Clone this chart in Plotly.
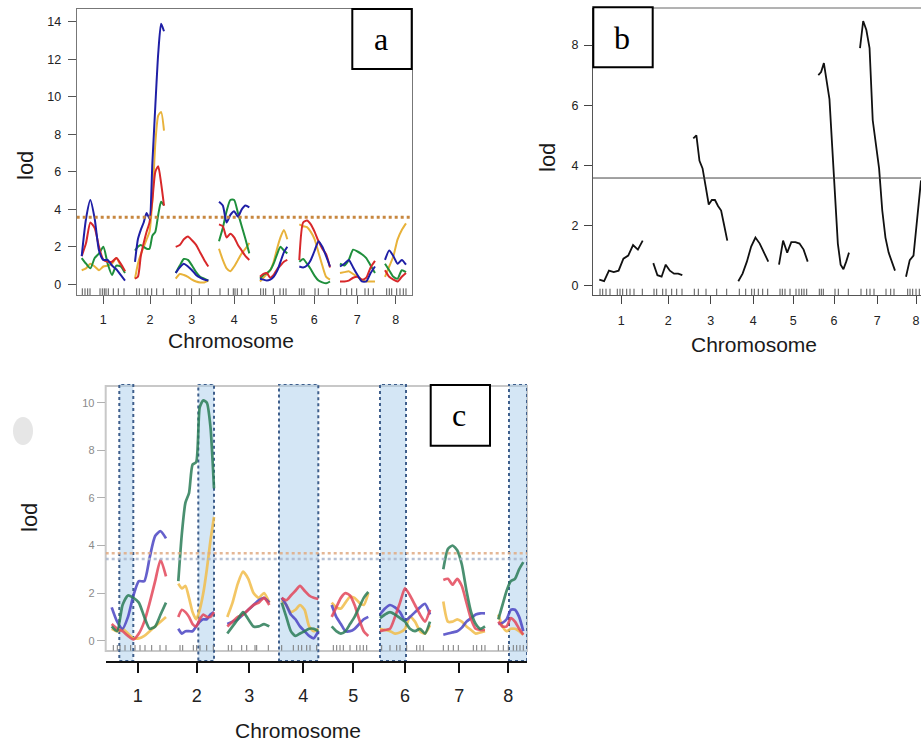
import numpy as np
import plotly.graph_objects as go

W, H = 921, 744
CHROMS = ["1", "2", "3", "4", "5", "6", "7", "8"]

# ---------------- Panel a (four traits) ----------------
A_CHR_START = [5.0, 58.3, 99.0, 142.3, 183.3, 222.6, 263.3, 308.3]
A_CHR_END = [48.3, 87.3, 131.6, 172.6, 210.6, 253.3, 298.3, 329.3]
A_CHR_MID = [26.6, 73.3, 115.0, 157.6, 197.3, 237.6, 280.6, 319.0]
A_BLUE = [
    [1.5, 3.5, 4.5, 3.5, 1.8, 1.3, 1.3, 1.0, 0.8, 0.5, 0.2],
    [1.2, 2.4, 2.9, 3.3, 3.8, 3.5, 6.5, 9.5, 12.3, 13.9, 13.5],
    [0.6, 0.9, 1.1, 0.95, 0.75, 0.5, 0.35, 0.25, 0.2],
    [4.4, 4.2, 3.3, 3.7, 3.9, 3.6, 4.0, 4.2, 4.1],
    [0.3, 0.25, 0.2, 0.25, 0.4, 0.7, 1.2, 1.7, 2.0],
    [0.95, 0.9, 1.0, 1.3, 1.8, 2.3, 2.0, 1.5, 0.95],
    [0.95, 1.1, 1.3, 0.9, 0.5, 0.15, 0.15, 0.6, 0.95],
    [1.3, 1.8, 1.5, 1.1, 1.3, 1.05],
]
A_RED = [
    [1.5, 2.2, 3.3, 3.0, 2.0, 1.3, 1.2, 1.2, 1.4, 1.1, 0.7],
    [0.3, 0.4, 1.5, 2.2, 2.8, 3.3, 4.5, 6.0, 6.3, 5.4, 4.2],
    [2.0, 2.1, 2.4, 2.55, 2.35, 2.1, 1.7, 1.3, 0.95],
    [3.2, 3.1, 2.5, 2.7, 2.5, 2.1, 1.8, 1.5, 1.3],
    [0.4, 0.55, 0.6, 0.35, 0.5, 0.8, 1.0, 1.2, 1.3],
    [1.3, 3.3, 3.4, 3.2, 2.8, 2.3, 1.9, 1.6, 0.9],
    [0.15, 0.15, 0.2, 0.35, 0.4, 0.25, 0.35, 0.9, 1.25],
    [0.75, 0.4, 0.25, 0.15, 0.4, 0.6],
]
A_GREEN = [
    [1.4, 1.1, 0.85, 1.4, 1.65, 2.0, 1.1, 0.5, 1.0, 0.95, 0.6],
    [1.8, 2.0, 2.1, 2.0, 1.9, 1.9, 2.6, 2.8, 3.7, 4.4, 4.2],
    [0.6, 1.0, 1.35, 1.3, 1.0, 0.65, 0.4, 0.3, 0.2],
    [2.3, 3.0, 3.9, 4.5, 4.5, 3.8, 3.1, 2.4, 1.65],
    [0.3, 0.5, 0.6, 0.75, 1.1, 1.6, 2.0, 1.8, 1.65],
    [1.2, 1.35, 1.1, 0.8, 0.45, 0.2, 0.1, 0.05, 0.15],
    [1.1, 1.0, 1.3, 1.85, 1.75, 1.6, 1.4, 1.0, 0.6],
    [1.1, 0.75, 0.4, 0.3, 0.75, 0.65],
]
A_ORANGE = [
    [0.75, 0.85, 1.1, 0.95, 0.75, 0.95, 1.0, 1.1, 1.4, 1.0, 0.7],
    [0.3, 1.1, 1.6, 2.0, 2.4, 2.8, 4.5, 7.5, 9.0, 9.2, 8.2],
    [0.3, 0.55, 0.5, 0.4, 0.25, 0.15, 0.1, 0.1, 0.2],
    [1.9, 1.3, 0.85, 0.7, 0.95, 1.3, 1.65, 1.9, 2.2],
    [0.15, 0.35, 0.55, 0.75, 1.2, 1.9, 2.5, 2.9, 2.4],
    [3.2, 3.1, 3.05, 2.8, 2.4, 1.7, 1.0, 0.4, 0.25],
    [0.6, 0.65, 0.7, 0.55, 0.4, 0.25, 0.15, 0.15, 0.15],
    [0.4, 0.95, 1.5, 2.4, 2.9, 3.25],
]
A_MARKERS = [
    [5.6, 8.3, 11.0, 13.3, 23.3, 25.6, 27.6, 29.3, 31.6, 36.6, 41.6, 47.3],
    [60.0, 62.6, 68.3, 71.0, 75.0, 80.0, 86.6],
    [100.0, 102.6, 108.3, 115.0, 122.6, 131.6],
    [143.3, 151.6, 156.6, 158.3, 160.6, 165.0, 171.6],
    [184.0, 186.6, 189.0, 196.6, 203.3, 206.6, 209.3],
    [222.6, 225.0, 227.3, 238.3, 241.6, 251.6],
    [264.0, 270.0, 275.0, 280.0, 288.3, 291.6, 296.6],
    [310.0, 312.6, 315.0, 320.0, 323.3, 326.6, 329.3],
]
A_THRESHOLD = 3.58

# ---------------- Panel b (single trait) ----------------
B_CHR_START = [6.3, 60.3, 100.3, 145.3, 186.0, 225.3, 267.0, 313.0]
B_CHR_END = [49.7, 89.3, 134.3, 175.3, 214.7, 256.0, 302.0, 328.0]
B_CHR_MID = [28.3, 75.3, 117.7, 160.3, 200.3, 241.0, 284.3, 323.0]
B_LOD = [
    [0.2, 0.15, 0.5, 0.45, 0.5, 0.9, 1.0, 1.35, 1.2, 1.5],
    [0.75, 0.35, 0.3, 0.7, 0.5, 0.4, 0.4, 0.35],
    [4.9, 5.0, 4.15, 3.9, 3.3, 2.7, 2.85, 2.85, 2.65, 2.5, 2.0, 1.5],
    [0.15, 0.4, 0.8, 1.3, 1.6, 1.4, 1.1, 0.8],
    [0.7, 1.5, 1.1, 1.45, 1.45, 1.4, 1.2, 0.8],
    [7.0, 7.1, 7.4, 6.8, 6.2, 4.6, 3.0, 1.4, 0.7, 0.55, 0.8, 1.1],
    [7.9, 8.8, 8.5, 7.9, 5.5, 4.7, 3.9, 2.5, 1.6, 1.1, 0.8, 0.5],
    [0.3, 0.85, 1.0, 2.2, 3.5],
]
B_MARKERS = [
    [7.0, 9.7, 13.0, 17.0, 24.3, 27.0, 29.7, 33.7, 37.0, 41.0, 49.3],
    [61.0, 63.7, 69.7, 73.0, 78.7, 83.7, 89.0],
    [101.3, 105.3, 113.0, 123.7, 133.7],
    [146.3, 152.7, 158.7, 161.3, 165.3, 169.7, 174.7],
    [187.0, 189.3, 192.0, 197.0, 203.0, 206.0, 208.7, 211.0, 213.7],
    [226.3, 228.3, 230.3, 242.0, 245.3, 255.3],
    [268.0, 273.7, 277.0, 281.0, 293.0, 297.7, 301.0],
    [314.7, 317.0, 319.7, 323.0, 326.3],
]
B_THRESHOLD = 3.58

# ---------------- Panel c (four traits, QTL regions) ----------------
C_CHR_START = [6.0, 72.6, 121.6, 176.0, 226.0, 274.3, 337.6, 392.6]
C_CHR_END = [60.3, 108.3, 163.6, 212.6, 262.6, 324.3, 379.3, 417.6]
C_CHR_MID = [32.0, 91.0, 143.6, 197.6, 247.6, 299.3, 353.6, 402.6]
C_BLUE = [
    [1.4, 0.8, 0.5, 1.0, 1.9, 2.5, 2.5, 3.5, 4.4, 4.6, 4.3],
    [0.5, 0.3, 0.4, 0.4, 0.4, 0.6, 0.8, 0.9, 0.9, 1.1, 1.2],
    [0.7, 0.8, 0.9, 1.1, 1.3, 1.5, 1.7, 1.8, 1.6],
    [1.8, 1.5, 1.1, 0.9, 0.6, 0.4, 0.2, 0.1, 0.4],
    [1.5, 1.0, 0.7, 0.4, 0.4, 0.5, 0.7, 0.9, 1.0],
    [1.1, 1.35, 1.5, 1.4, 1.2, 0.85, 1.0, 1.2, 1.4, 1.55, 1.1],
    [0.25, 0.3, 0.35, 0.4, 0.55, 0.8, 0.95, 1.1, 1.15, 1.15],
    [0.7, 0.75, 0.9, 1.3, 1.3, 1.0, 0.4],
]
C_RED = [
    [0.7, 0.5, 0.4, 0.2, 0.05, 0.3, 0.8, 1.6, 2.5, 3.4, 2.7],
    [1.0, 1.3, 1.2, 1.0, 0.7, 0.6, 0.9, 1.1, 1.0, 1.0, 1.2],
    [0.6, 0.8, 1.0, 1.1, 1.3, 1.5, 1.6, 1.8, 1.5],
    [1.8, 1.7, 1.9, 2.1, 2.3, 2.1, 1.9, 1.8, 1.75],
    [1.0, 1.4, 1.8, 2.0, 1.9, 1.5, 0.9, 0.4, 0.2],
    [0.4, 0.45, 0.5, 1.0, 1.6, 2.2, 1.9, 1.5, 1.1, 0.8, 1.3],
    [2.55, 2.6, 2.35, 2.6, 2.3, 1.6, 0.9, 0.5, 0.45, 0.45],
    [0.8, 0.6, 0.6, 0.95, 0.8, 0.5, 0.25],
]
C_GREEN = [
    [0.6, 0.4, 1.5, 1.9, 1.8, 1.6, 1.0, 0.5, 0.6, 1.1, 1.6],
    [2.5, 4.5, 5.8, 6.2, 7.4, 7.5, 9.8, 10.1, 10.0, 9.0, 6.4],
    [0.3, 0.6, 0.9, 1.2, 0.9, 0.6, 0.6, 0.7, 0.6],
    [1.6, 1.0, 0.4, 0.2, 0.3, 0.4, 0.5, 0.5, 0.4],
    [0.6, 0.4, 0.3, 0.4, 0.7, 1.0, 1.4, 1.8, 2.05],
    [0.95, 1.1, 1.2, 1.1, 0.95, 0.8, 0.5, 0.4, 0.5, 0.3, 0.8],
    [3.0, 3.85, 4.0, 3.8, 3.2, 2.1, 1.2, 0.7, 0.5, 0.6],
    [0.9, 1.5, 2.1, 2.5, 2.6, 3.0, 3.3],
]
C_ORANGE = [
    [0.5, 0.4, 0.5, 0.3, 0.1, 0.1, 0.2, 0.4, 0.6, 0.8, 1.0],
    [2.4, 2.2, 2.3, 1.8, 1.2, 0.9, 1.3, 2.0, 3.0, 4.2, 5.2],
    [1.0, 1.6, 2.4, 2.9, 2.6, 2.0, 1.8, 2.0, 1.6],
    [1.7, 1.5, 1.2, 1.3, 1.5, 1.3, 0.6, 0.4, 0.5],
    [1.6, 1.4, 1.35, 1.6, 1.85, 1.8, 1.6, 1.5, 2.0],
    [0.5, 0.45, 0.4, 0.3, 0.35, 0.5, 1.0, 0.8, 0.4, 0.3, 0.65],
    [1.65, 0.8, 0.8, 0.9, 0.8, 0.6, 0.45, 0.3, 0.35, 0.4],
    [1.1, 0.6, 0.4, 0.5, 0.5, 0.4, 0.25],
]
C_MARKERS = [
    [7.6, 11.6, 14.3, 19.3, 25.0, 29.3, 34.3, 39.3, 46.0, 54.3, 60.3],
    [74.3, 77.0, 87.6, 91.0, 94.3, 101.0, 107.6],
    [122.6, 126.0, 136.0, 141.0, 149.3, 151.0, 162.6],
    [176.0, 187.6, 192.6, 196.0, 201.0, 204.3, 211.0],
    [227.6, 231.0, 234.3, 237.6, 244.3, 251.0, 254.3, 257.6, 261.0],
    [276.0, 284.3, 291.0, 294.3, 301.0, 311.0, 314.3, 317.6],
    [337.6, 342.6, 347.6, 352.6, 367.6, 371.0, 376.0, 379.3],
    [392.6, 397.6, 402.6, 407.6, 411.0, 414.3, 417.6],
]
C_QTL_START = [13.6, 92.6, 173.3, 274.3, 403.3]
C_QTL_END = [27.6, 108.3, 212.6, 300.3, 421.3]
C_THRESHOLD_1 = 3.67
C_THRESHOLD_2 = 3.43

SANS = "Liberation Sans, Arial, sans-serif"
SERIF = "Liberation Serif, Times New Roman, serif"


def px(x):
    return x / W


def py(y):
    return 1 - y / H


fig = go.Figure()


def add_scan(values, starts, ends, color, xa, ya, width=2.0, opacity=1.0, shape="spline"):
    xs, ys = [], []
    for v, s, e in zip(values, starts, ends):
        pos = np.linspace(s, e, len(v))
        xs += list(pos) + [None]
        ys += list(v) + [None]
    fig.add_trace(go.Scatter(
        x=xs, y=ys, mode="lines", xaxis=xa, yaxis=ya, opacity=opacity,
        line=dict(color=color, width=width, shape=shape, smoothing=0.6),
        connectgaps=False, hoverinfo="skip", showlegend=False))


def add_rug(markers, yval, xa, ya, color="#555", size=6):
    xs = [m for chrom in markers for m in chrom]
    fig.add_trace(go.Scatter(
        x=xs, y=[yval] * len(xs), mode="markers", xaxis=xa, yaxis=ya,
        marker=dict(symbol="line-ns", size=size, line=dict(color=color, width=1)),
        hoverinfo="skip", showlegend=False))


# Panel a
for vals, col in [(A_ORANGE, "#e8b23a"), (A_GREEN, "#1f8f3c"), (A_RED, "#d8282a"), (A_BLUE, "#1f1fa6")]:
    add_scan(vals, A_CHR_START, A_CHR_END, col, "x", "y", width=2.0)
add_rug(A_MARKERS, -0.44, "x", "y")

# Panel b
add_scan(B_LOD, B_CHR_START, B_CHR_END, "#111111", "x2", "y2", width=1.8, shape="linear")
add_rug(B_MARKERS, -0.24, "x2", "y2")

# Panel c
for vals, col in [(C_ORANGE, "#f2bd4a"), (C_BLUE, "#4b45c4"), (C_RED, "#e3475a"), (C_GREEN, "#2b7d58")]:
    add_scan(vals, C_CHR_START, C_CHR_END, col, "x3", "y3", width=2.7, opacity=0.85)
add_rug(C_MARKERS, -0.30, "x3", "y3", color="#777", size=4)

axis_common = dict(showgrid=False, zeroline=False, ticks="outside")

fig.update_layout(
    width=W, height=H,
    margin=dict(l=0, r=0, t=0, b=0),
    paper_bgcolor="white", plot_bgcolor="rgba(0,0,0,0)",
    showlegend=False,
    font=dict(family=SANS, color="#222"),
    xaxis=dict(domain=[px(76.7), px(411.7)], range=[0, 335], anchor="y",
               tickvals=A_CHR_MID, ticktext=CHROMS, ticklen=8, tickcolor="#555",
               showline=True, linecolor="#777", mirror=True, ticklabelstandoff=5,
               tickfont=dict(size=12.5, color="#222"), **axis_common),
    yaxis=dict(domain=[py(295), py(9)], range=[-0.571, 14.69], anchor="x",
               tickvals=list(range(0, 15, 2)), ticklen=8, tickcolor="#555",
               showline=True, linecolor="#777", mirror=True, ticklabelstandoff=4,
               tickfont=dict(size=12.5, color="#222"), **axis_common),
    xaxis2=dict(domain=[px(593), 1.0], range=[0, 328], anchor="y2",
                tickvals=B_CHR_MID, ticktext=CHROMS, ticklen=8, tickcolor="#444",
                showline=True, linecolor="#555", ticklabelstandoff=6,
                tickfont=dict(size=12.5, color="#222"), **axis_common),
    yaxis2=dict(domain=[py(295), py(8)], range=[-0.309, 9.232], anchor="x2",
                tickvals=list(range(0, 9, 2)), ticklen=8, tickcolor="#444",
                showline=True, linecolor="#555", ticklabelstandoff=3,
                tickfont=dict(size=12.5, color="#222"), **axis_common),
    xaxis3=dict(domain=[px(105.7), px(527)], range=[0, 421.3], anchor="y3",
                tickvals=C_CHR_MID, ticktext=CHROMS, ticklen=10, tickwidth=2,
                tickcolor="#111", showline=True, linecolor="#111", linewidth=1.5,
                ticklabelstandoff=8,
                tickfont=dict(size=18, color="#222"), **axis_common),
    yaxis3=dict(domain=[py(661), py(384)], range=[-0.853, 10.786], anchor="x3",
                tickvals=list(range(0, 11, 2)), ticklen=8, tickcolor="#b0b0b0",
                showline=False,
                tickfont=dict(size=11, color="#8a8a8a"), **axis_common),
)

shapes = []
# panel c plot frame
shapes.append(dict(type="rect", xref="paper", yref="paper",
                   x0=px(105.7), x1=px(527), y0=py(651), y1=py(386),
                   line=dict(color="#c8c8c8", width=2), layer="below"))
# panel c QTL regions
for s, e in zip(C_QTL_START, C_QTL_END):
    shapes.append(dict(type="rect", xref="x3", yref="y3", x0=s, x1=e, y0=-0.853, y1=10.786,
                       fillcolor="rgba(170,205,235,0.5)",
                       line=dict(color="#3f5f8c", width=2, dash="dot"), layer="below"))
# thresholds
shapes.append(dict(type="line", xref="x", yref="y", x0=0, x1=335, y0=A_THRESHOLD, y1=A_THRESHOLD,
                   line=dict(color="#c7873f", width=3, dash="dot")))
shapes.append(dict(type="line", xref="x2", yref="y2", x0=0, x1=328, y0=B_THRESHOLD, y1=B_THRESHOLD,
                   line=dict(color="#444", width=1)))
shapes.append(dict(type="line", xref="x3", yref="y3", x0=0, x1=421.3, y0=C_THRESHOLD_1, y1=C_THRESHOLD_1,
                   line=dict(color="rgba(225,170,130,0.85)", width=2.5, dash="dot")))
shapes.append(dict(type="line", xref="x3", yref="y3", x0=0, x1=421.3, y0=C_THRESHOLD_2, y1=C_THRESHOLD_2,
                   line=dict(color="rgba(170,182,205,0.85)", width=2.5, dash="dot")))
# panel b top frame line
shapes.append(dict(type="line", xref="paper", yref="paper", x0=px(593), x1=1.0, y0=py(8), y1=py(8),
                   line=dict(color="#666", width=1)))
# faint blob left of panel c
shapes.append(dict(type="circle", xref="paper", yref="paper", x0=px(13), x1=px(33), y0=py(445), y1=py(417),
                   fillcolor="#e6e6e6", line=dict(width=0), layer="below"))
# label boxes
for (x0, x1, y0, y1) in [(352.3, 411.7, 9, 69), (593.3, 652.7, 7.3, 67.3), (430.7, 490, 385, 445.7)]:
    shapes.append(dict(type="rect", xref="paper", yref="paper", x0=px(x0), x1=px(x1), y0=py(y1), y1=py(y0),
                       fillcolor="white", line=dict(color="black", width=2), layer="above"))
fig.update_layout(shapes=shapes)

ann = []


def text(t, x, y, size, angle=0, family=SANS, color="#1a1a1a"):
    ann.append(dict(text=t, x=px(x), y=py(y), xref="paper", yref="paper", showarrow=False,
                    xanchor="center", yanchor="middle", textangle=angle,
                    font=dict(family=family, size=size, color=color)))


text("lod", 25, 166, 22, angle=-90)
text("Chromosome", 231, 341, 21)
text("lod", 547, 158, 22, angle=-90)
text("Chromosome", 754, 344, 21)
text("lod", 29, 518, 22, angle=-90)
text("Chromosome", 298, 730, 21)
text("a", 381, 39, 32, family=SERIF, color="black")
text("b", 622, 38, 32, family=SERIF, color="black")
text("c", 459, 415, 32, family=SERIF, color="black")
fig.update_layout(annotations=ann)

fig.write_html("out.html", config={"displayModeBar": False},
               post_script="document.body.style.margin='0px';document.body.style.padding='0px';")
